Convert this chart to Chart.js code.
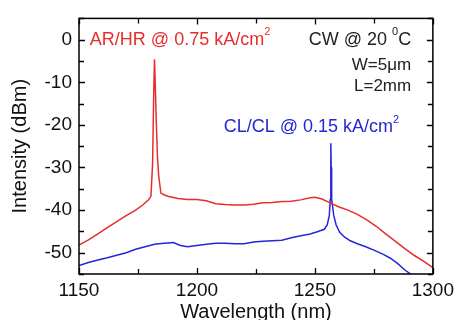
<!DOCTYPE html>
<html>
<head>
<meta charset="utf-8">
<script src="https://cdn.jsdelivr.net/npm/chart.js@4/dist/chart.umd.min.js"></script>
<style>
html,body{margin:0;padding:0;background:#fff;}
#wrap{width:459px;height:320px;position:relative;}
</style>
</head>
<body>
<div id="wrap"><canvas id="c" width="459" height="320"></canvas></div>
<script>
// ---- data ----
const xTicks = [1150, 1200, 1250, 1300];
const yTicks = [-50, -40, -30, -20, -10, 0];

const arhrWavelength = [1150,1154,1158,1162,1166,1170,1174,1177,1179.5,1180.5,1181.2,1181.6,1182.0,1182.3,1182.8,1183.3,1183.8,1184.7,1186,1188,1192,1196,1200,1204,1208,1212,1216,1220,1224,1228,1232,1236,1240,1244,1248,1250,1253,1256,1260,1264,1268,1272,1276,1280,1284,1288,1292,1296,1300];
const arhrIntensity  = [-48.2,-47.0,-45.6,-44.1,-42.7,-41.3,-40.0,-38.8,-37.6,-36.7,-29,-15,-4.6,-10,-20,-28,-32,-36,-36.4,-36.8,-37.3,-37.5,-37.5,-37.8,-38.5,-38.7,-38.8,-38.8,-38.6,-38.3,-38.2,-38.0,-37.9,-37.6,-37.1,-37.0,-37.4,-38.2,-39.2,-40.0,-41.0,-42.3,-43.8,-45.6,-47.3,-49.0,-50.6,-52.0,-53.5];

const clclWavelength = [1150,1154,1158,1162,1166,1170,1174,1178,1182,1186,1190,1193,1196,1200,1204,1208,1212,1216,1220,1224,1228,1232,1236,1240,1244,1248,1251,1254,1255.2,1256.1,1256.5,1256.7,1256.8,1256.9,1257.1,1258,1259,1260.5,1262.5,1265,1268,1271,1275,1279,1282,1285,1288,1291,1293];
const clclIntensity  = [-53.0,-52.3,-51.7,-51.2,-50.6,-50.0,-49.2,-48.6,-48.0,-47.8,-47.6,-48.3,-48.6,-48.3,-48.0,-47.8,-47.8,-47.9,-47.9,-47.5,-47.3,-47.2,-47.1,-46.5,-46.0,-45.6,-45.1,-44.5,-43.5,-41.3,-37.5,-30,-24.3,-30,-37.5,-41.3,-43.5,-45.2,-46.3,-47.2,-47.9,-48.5,-49.4,-50.4,-51.3,-52.5,-54.0,-55.2,-56.0];

const seriesNames = ['AR/HR @ 0.75 kA/cm²', 'CL/CL @ 0.15 kA/cm²'];

// ---- styles / layout ----
const RED = 'rgb(232,44,44)';
const BLUE = 'rgb(38,38,214)';
const FONT = "'Liberation Sans', Arial, sans-serif";

const toPts = (xs, ys) => xs.map((x, i) => ({x: x, y: ys[i]}));

// annotation placements (data units), kept separate from the data
const notes = [
  {segs:[{t:'AR/HR @ 0.75 kA/cm'},{t:'2',sup:true}], x:1154.6, y:0, align:'left', color:RED, size:18},
  {segs:[{t:'CW @ 20 '},{t:'0',sup:true},{t:'C'}], x:1290.8, y:0, align:'right', color:'#222', size:18},
  {segs:[{t:'W=5μm'}], x:1290.8, y:-6, align:'right', color:'#222', size:17},
  {segs:[{t:'L=2mm'}], x:1290.8, y:-11, align:'right', color:'#222', size:17},
  {segs:[{t:'CL/CL @ 0.15 kA/cm'},{t:'2',sup:true}], x:1285.7, y:-20.6, align:'right', color:BLUE, size:18}
];

function drawRich(ctx, n, px, py) {
  const main = n.size + 'px ' + FONT;
  const sup = Math.round(n.size * 0.62) + 'px ' + FONT;
  let w = 0;
  n.segs.forEach(s => { ctx.font = s.sup ? sup : main; w += ctx.measureText(s.t).width; });
  let x = n.align === 'right' ? px - w : px;
  ctx.fillStyle = n.color;
  ctx.textAlign = 'left';
  ctx.textBaseline = 'middle';
  n.segs.forEach(s => {
    ctx.font = s.sup ? sup : main;
    ctx.fillText(s.t, x, s.sup ? py - n.size * 0.42 : py);
    x += ctx.measureText(s.t).width;
  });
}

const framePlugin = {
  id: 'frame',
  afterDatasetsDraw(chart) {
    const {ctx, chartArea: a, scales: {x, y}} = chart;
    ctx.save();
    ctx.strokeStyle = '#000';
    ctx.lineWidth = 1.5;
    ctx.strokeRect(a.left, a.top, a.right - a.left, a.bottom - a.top);
    ctx.lineWidth = 1.3;
    ctx.beginPath();
    for (let v = x.min; v <= x.max + 1e-6; v += 25) {
      const p = Math.round(x.getPixelForValue(v)) + 0.5;
      const L = (v % 50 === 0) ? 6 : 5;
      ctx.moveTo(p, a.bottom); ctx.lineTo(p, a.bottom - L);
      ctx.moveTo(p, a.top); ctx.lineTo(p, a.top + L);
    }
    for (let v = -55; v <= 5 + 1e-6; v += 5) {
      const p = Math.round(y.getPixelForValue(v)) + 0.5;
      const L = (v % 10 === 0) ? 6 : 5;
      ctx.moveTo(a.left, p); ctx.lineTo(a.left + L, p);
      ctx.moveTo(a.right, p); ctx.lineTo(a.right - L, p);
    }
    ctx.stroke();
    notes.forEach(n => drawRich(ctx, n, x.getPixelForValue(n.x), y.getPixelForValue(n.y)));
    ctx.restore();
  }
};

new Chart(document.getElementById('c'), {
  type: 'line',
  data: {
    datasets: [
      {label: seriesNames[0], data: toPts(arhrWavelength, arhrIntensity), borderColor: RED, borderWidth: 1.5, pointRadius: 0, tension: 0, fill: false, clip: 0},
      {label: seriesNames[1], data: toPts(clclWavelength, clclIntensity), borderColor: BLUE, borderWidth: 1.5, pointRadius: 0, tension: 0, fill: false, clip: 0}
    ]
  },
  options: {
    responsive: false,
    animation: false,
    devicePixelRatio: 1,
    layout: {padding: {top: 11, right: 24, left: 0, bottom: 0}},
    plugins: {legend: {display: false}, tooltip: {enabled: false}},
    scales: {
      x: {
        type: 'linear', min: 1150, max: 1300,
        afterBuildTicks: s => { s.ticks = xTicks.map(v => ({value: v})); },
        afterFit: s => { s.height = 46; },
        grid: {display: false, drawTicks: false},
        border: {display: false},
        ticks: {color: '#111', font: {family: FONT, size: 19}, padding: 5, maxRotation: 0, callback: v => String(v)},
        title: {display: true, text: 'Wavelength (nm)', color: '#111', font: {family: FONT, size: 20, lineHeight: 0.8}, padding: {top: 0, bottom: 0}}
      },
      y: {
        type: 'linear', min: -55, max: 5,
        afterBuildTicks: s => { s.ticks = yTicks.map(v => ({value: v})); },
        afterFit: s => { s.width = 79; },
        grid: {display: false, drawTicks: false},
        border: {display: false},
        ticks: {color: '#111', font: {family: FONT, size: 19}, padding: 7, callback: v => String(v)},
        title: {display: true, text: 'Intensity (dBm)', color: '#111', font: {family: FONT, size: 20, lineHeight: 1}, padding: {top: 10, bottom: 0}}
      }
    }
  },
  plugins: [framePlugin]
});
</script>
</body>
</html>
